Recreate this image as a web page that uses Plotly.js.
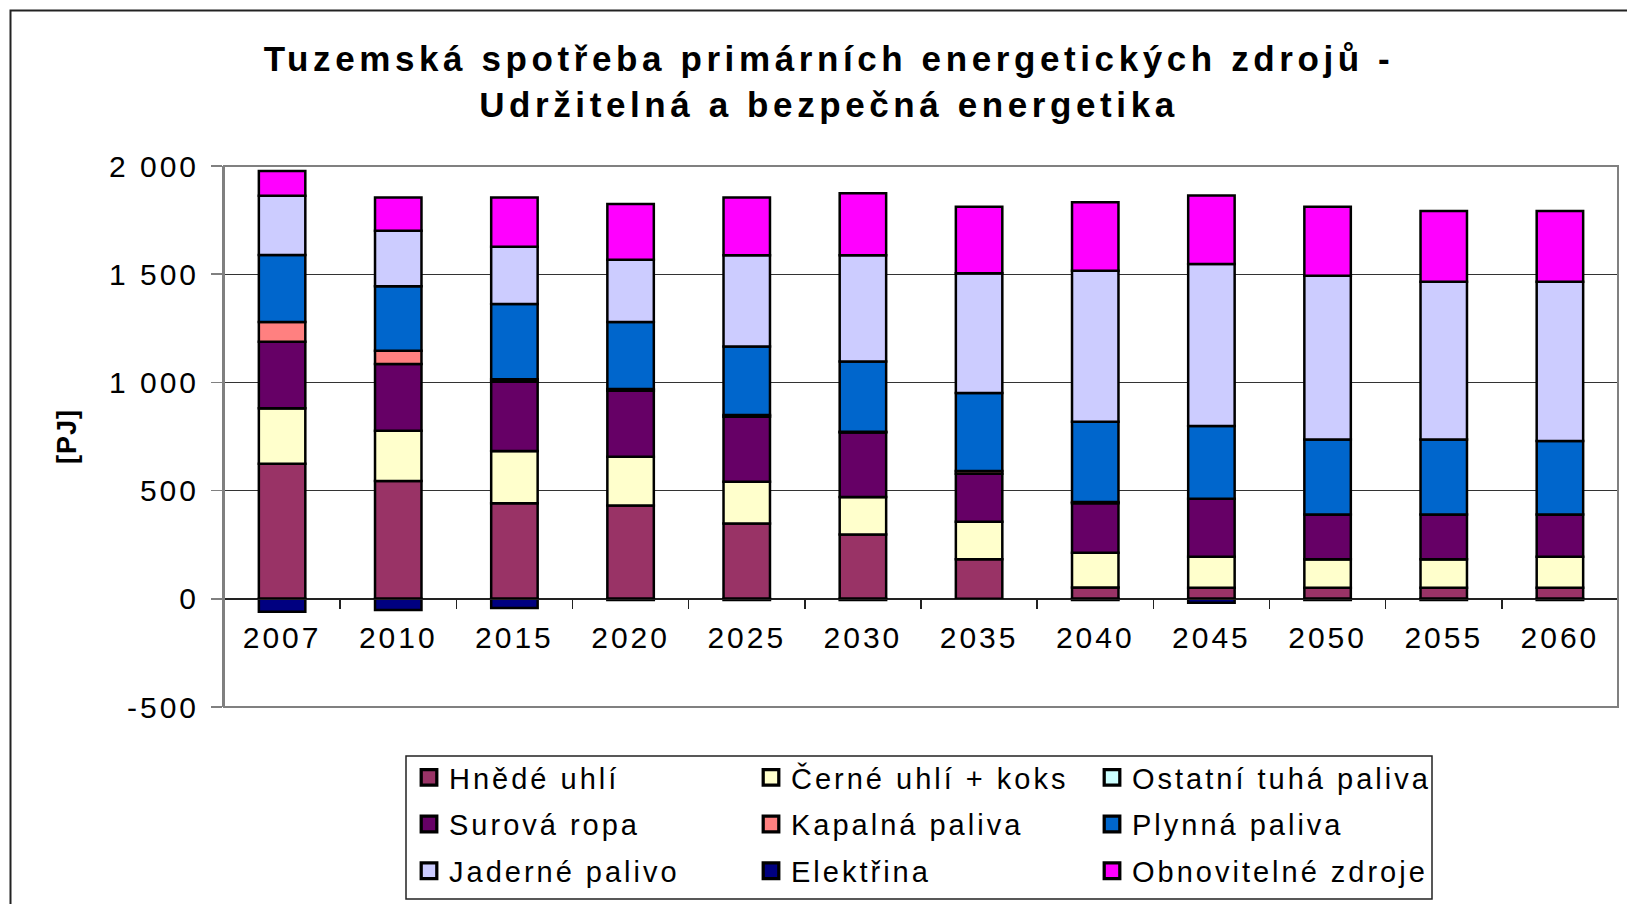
<!DOCTYPE html>
<html>
<head>
<meta charset="utf-8">
<script src="https://cdn.plot.ly/plotly-3.0.1.min.js"></script>
<style>
html,body{margin:0;padding:0;background:#fff;}
#chart{width:1627px;height:904px;}
.xtick text, .ytick text {letter-spacing:3px;}
text.legendtext, text.legend2text, text.legend3text {letter-spacing:3px;}
.gtitle {letter-spacing:4.6px;}
.ytitle {letter-spacing:1px;}
#chart .legendpoints path {transform:translate(20px,0px) scale(1.3);}
</style>
</head>
<body>
<div id="chart"></div>
<script>
var years = ['2007','2010','2015','2020','2025','2030','2035','2040','2045','2050','2055','2060'];
var hnedeUhli = [624, 544, 441, 431, 348, 297, 183, 52, 51, 51, 51, 51];
var cerneUhli = [256, 233, 242, 225, 193, 173, 173, 161, 143, 132, 132, 143];
var ostatniTuha = [0, 0, 0, 0, 0, 0, 0, 0, 0, 0, 0, 0];
var surovaRopa = [308, 308, 320, 305, 300, 299, 222, 228, 268, 207, 207, 196];
var kapalnaPaliva = [91, 61, 12, 8, 8, 3, 12, 6, 0, 0, 0, 0];
var plynnaPaliva = [310, 298, 347, 310, 317, 325, 361, 371, 336, 346, 346, 339];
var jadernePalivo = [274, 257, 265, 288, 421, 490, 553, 698, 749, 757, 729, 736];
var elektrina = [-60, -52, -42, -5, -6, -6, 0, -6, -18, -6, -6, -6];
var obnovitelne = [114, 153, 227, 257, 267, 287, 308, 316, 317, 319, 327, 327];

var yTickVals = [-500, 0, 500, 1000, 1500, 2000];
var yTickText = ['-500', '0', '500', '1 000', '1 500', '2 000'];

var series = [
  {name: 'Hnědé uhlí', y: hnedeUhli, color: '#993366', legend: 'legend'},
  {name: 'Černé uhlí + koks', y: cerneUhli, color: '#FFFFCC', legend: 'legend2'},
  {name: 'Ostatní tuhá paliva', y: ostatniTuha, color: '#CCFFFF', legend: 'legend3'},
  {name: 'Surová ropa', y: surovaRopa, color: '#660066', legend: 'legend'},
  {name: 'Kapalná paliva', y: kapalnaPaliva, color: '#FF8080', legend: 'legend2'},
  {name: 'Plynná paliva', y: plynnaPaliva, color: '#0066CC', legend: 'legend3'},
  {name: 'Jaderné palivo', y: jadernePalivo, color: '#CCCCFF', legend: 'legend'},
  {name: 'Elektřina', y: elektrina, color: '#000080', legend: 'legend2'},
  {name: 'Obnovitelné zdroje', y: obnovitelne, color: '#FF00FF', legend: 'legend3'}
];

var FONT = 'Liberation Sans, Arial, sans-serif';

var traces = series.map(function (s, i) {
  return {
    type: 'bar',
    name: s.name,
    x: years,
    y: s.y,
    legend: s.legend,
    legendgroup: 'g' + i,
    marker: {color: s.color, line: {color: '#000000', width: 2.5}},
    hoverinfo: 'x+y+name'
  };
});

var W = 1627, H = 904;
var mL = 224, mR = 9, mT = 166, mB = 197;
var pw = W - mL - mR, ph = H - mT - mB;
function px2x(p) { return (p - mL) / pw; }
function py2y(p) { return (H - mB - p) / ph; }

var legendCommon = {
  orientation: 'v',
  traceorder: 'grouped',
  font: {family: FONT, size: 29, color: '#000'},
  bgcolor: 'rgba(0,0,0,0)',
  borderwidth: 0,
  tracegroupgap: 6,
  xanchor: 'left',
  yanchor: 'top',
  y: py2y(752),
  itemclick: false
};

var layout = {
  width: W,
  height: H,
  paper_bgcolor: '#ffffff',
  plot_bgcolor: '#ffffff',
  barmode: 'relative',
  bargap: 0.6,
  margin: {l: mL, r: mR, t: mT, b: mB, autoexpand: false},
  font: {family: FONT, color: '#000'},
  title: {
    text: 'Tuzemská spotřeba primárních energetických zdrojů -<br>Udržitelná a bezpečná energetika',
    font: {family: FONT, size: 35, color: '#000', weight: 'bold'},
    x: 829 / W,
    xref: 'container',
    xanchor: 'center',
    y: 1 - 71 / H,
    yref: 'container',
    yanchor: 'top'
  },
  xaxis: {
    type: 'category',
    anchor: 'free',
    position: 0.2,
    showline: true,
    linecolor: '#222',
    linewidth: 1.5,
    ticks: 'outside',
    tickson: 'boundaries',
    ticklen: 9,
    tickcolor: '#222',
    tickwidth: 1.5,
    ticklabelstandoff: 12,
    tickfont: {family: FONT, size: 30, color: '#000'},
    showgrid: false,
    zeroline: false,
    fixedrange: true
  },
  yaxis: {
    range: [-500, 2000],
    tickvals: yTickVals,
    ticktext: yTickText,
    ticks: 'outside',
    ticklen: 11,
    tickcolor: '#808080',
    tickwidth: 1.5,
    ticklabelstandoff: 6,
    tickfont: {family: FONT, size: 30, color: '#000'},
    showline: true,
    linecolor: '#808080',
    linewidth: 2,
    showgrid: true,
    gridcolor: '#333333',
    gridwidth: 1,
    zeroline: true,
    zerolinecolor: '#222',
    zerolinewidth: 1.5,
    title: {text: '[PJ]', font: {family: FONT, size: 27, color: '#000', weight: 'bold'}, standoff: 24},
    fixedrange: true
  },
  legend: Object.assign({}, legendCommon, {x: px2x(409)}),
  legend2: Object.assign({}, legendCommon, {x: px2x(751)}),
  legend3: Object.assign({}, legendCommon, {x: px2x(1092)}),
  shapes: [
    {type: 'rect', xref: 'paper', yref: 'paper', x0: 0, x1: 1, y0: 0, y1: 1,
     line: {color: '#808080', width: 2}, fillcolor: 'rgba(0,0,0,0)', layer: 'above'},
    {type: 'rect', xref: 'paper', yref: 'paper', x0: px2x(406), x1: px2x(1432), y0: py2y(899), y1: py2y(756),
     line: {color: '#222', width: 1.5}, fillcolor: 'rgba(0,0,0,0)'},
    {type: 'rect', xref: 'paper', yref: 'paper', x0: px2x(10.5), x1: px2x(1700), y0: py2y(1000), y1: py2y(10.5),
     line: {color: '#222', width: 2}, fillcolor: 'rgba(0,0,0,0)'}
  ],
  showlegend: true
};

Plotly.newPlot('chart', traces, layout, {displayModeBar: false, staticPlot: true});
</script>
</body>
</html>
